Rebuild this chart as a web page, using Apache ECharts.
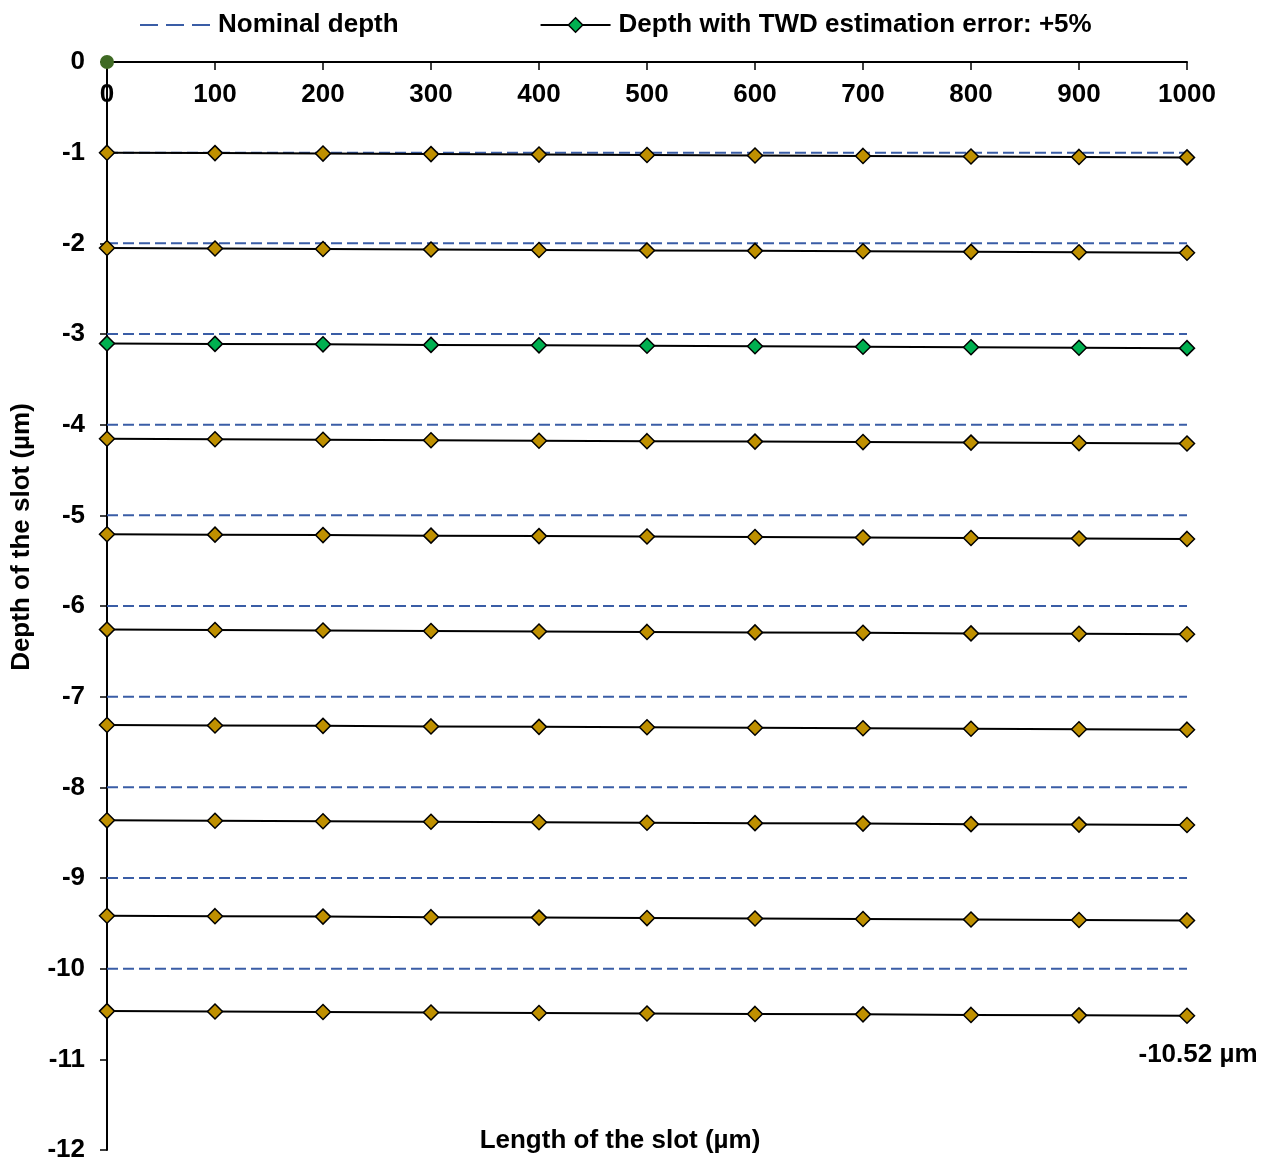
<!DOCTYPE html>
<html>
<head>
<meta charset="utf-8">
<title>Depth of the slot</title>
<script src="https://cdn.jsdelivr.net/npm/echarts@6/dist/echarts.min.js"></script>
<style>
  html, body { margin: 0; padding: 0; background: #ffffff; }
  #chart { width: 1271px; height: 1163px; }
</style>
</head>
<body>
<div id="chart"></div>
<script>
// Positions along the slot (µm)
var lengths = [0, 100, 200, 300, 400, 500, 600, 700, 800, 900, 1000];

// Nominal depth of each pass (µm)
var nominalDepths = [-1, -2, -3, -4, -5, -6, -7, -8, -9, -10];

// Depth per pass with a +5% TWD estimation error (µm)
var pass1  = [-1.000, -1.005, -1.010, -1.016, -1.021, -1.026, -1.031, -1.036, -1.042, -1.047, -1.052];
var pass2  = [-2.052, -2.057, -2.062, -2.068, -2.073, -2.078, -2.083, -2.088, -2.094, -2.099, -2.104];
var pass3  = [-3.104, -3.109, -3.114, -3.120, -3.125, -3.130, -3.135, -3.140, -3.146, -3.151, -3.156];
var pass4  = [-4.156, -4.161, -4.166, -4.172, -4.177, -4.182, -4.187, -4.192, -4.198, -4.203, -4.208];
var pass5  = [-5.208, -5.213, -5.218, -5.224, -5.229, -5.234, -5.239, -5.244, -5.250, -5.255, -5.260];
var pass6  = [-6.260, -6.265, -6.270, -6.276, -6.281, -6.286, -6.291, -6.296, -6.302, -6.307, -6.312];
var pass7  = [-7.312, -7.317, -7.322, -7.328, -7.333, -7.338, -7.343, -7.348, -7.354, -7.359, -7.364];
var pass8  = [-8.364, -8.369, -8.374, -8.380, -8.385, -8.390, -8.395, -8.400, -8.406, -8.411, -8.416];
var pass9  = [-9.416, -9.421, -9.426, -9.432, -9.437, -9.442, -9.447, -9.452, -9.458, -9.463, -9.468];
var pass10 = [-10.468, -10.473, -10.478, -10.484, -10.489, -10.494, -10.499, -10.504, -10.510, -10.515, -10.520];
var passes = [pass1, pass2, pass3, pass4, pass5, pass6, pass7, pass8, pass9, pass10];

// Start point of the slot
var origin = [0, 0];

var NOMINAL = 'Nominal depth';
var ERRNAME = 'Depth with TWD estimation error: +5%';
var FONT = '"Liberation Sans", Arial, sans-serif';
var GOLD = '#BF9000';
var GREEN = '#00B050';
var BLUE = '#3A5DA6';

var series = [];

nominalDepths.forEach(function (d) {
  series.push({
    name: NOMINAL,
    type: 'line',
    symbol: 'none',
    silent: true,
    z: 2,
    lineStyle: { color: BLUE, width: 2, type: [11, 5] },
    itemStyle: { color: BLUE },
    data: [[lengths[0], d], [lengths[lengths.length - 1], d]]
  });
});

passes.forEach(function (vals, i) {
  var isLast = i === passes.length - 1;
  series.push({
    name: ERRNAME,
    type: 'line',
    symbol: 'diamond',
    symbolSize: 15,
    z: 3,
    lineStyle: { color: '#000000', width: 2 },
    itemStyle: { color: i === 2 ? GREEN : GOLD, borderColor: '#000000', borderWidth: 1.5 },
    data: vals.map(function (v, j) {
      var item = { value: [lengths[j], v] };
      if (isLast && j === vals.length - 1) {
        item.label = {
          show: true,
          position: 'bottom',
          distance: 18,
          offset: [11, 0],
          formatter: function (p) { return p.value[1].toFixed(2) + ' µm'; },
          fontFamily: FONT,
          fontWeight: 'bold',
          fontSize: 26,
          color: '#000000'
        };
      }
      return item;
    })
  });
});

series.push({
  name: 'origin',
  type: 'scatter',
  symbol: 'circle',
  symbolSize: 14,
  z: 5,
  itemStyle: { color: '#3F6A24', opacity: 1 },
  data: [origin]
});

var chart = echarts.init(document.getElementById('chart'), null, { renderer: 'canvas' });
chart.setOption({
  animation: false,
  backgroundColor: '#ffffff',
  grid: { left: 107, right: 84, top: 62, bottom: 12, containLabel: false },
  legend: {
    left: 134,
    top: 7,
    itemWidth: 70,
    itemHeight: 18,
    itemGap: 141,
    data: [
      { name: NOMINAL, itemStyle: { opacity: 0 }, lineStyle: { color: BLUE, width: 2, type: [18, 8] } },
      { name: ERRNAME, itemStyle: { color: GREEN, borderColor: '#000000', borderWidth: 1.5 } }
    ],
    textStyle: { fontFamily: FONT, fontWeight: 'bold', fontSize: 26, color: '#000000', padding: [0, 0, 0, 3] }
  },
  xAxis: {
    type: 'value',
    position: 'top',
    min: 0,
    max: 1000,
    interval: 100,
    axisLine: { show: true, onZero: false, lineStyle: { color: '#000000', width: 2 } },
    axisTick: { show: true, inside: true, length: 8, lineStyle: { color: '#000000', width: 1.5 } },
    axisLabel: {
      inside: true,
      margin: 20,
      formatter: function (v) { return String(v); },
      fontFamily: FONT,
      fontWeight: 'bold',
      fontSize: 26,
      color: '#000000'
    },
    splitLine: { show: false }
  },
  yAxis: {
    type: 'value',
    min: -12,
    max: 0,
    interval: 1,
    axisLine: { show: true, onZero: false, lineStyle: { color: '#000000', width: 2 } },
    axisTick: { show: true, inside: false, length: 7, lineStyle: { color: '#000000', width: 1.5 } },
    axisLabel: { margin: 22, fontFamily: FONT, fontWeight: 'bold', fontSize: 26, color: '#000000' },
    splitLine: { show: false }
  },
  graphic: [
    {
      type: 'text',
      x: 22,
      y: 537,
      rotation: Math.PI / 2,
      style: {
        text: 'Depth of the slot (µm)',
        fontFamily: FONT,
        fontWeight: 'bold',
        fontSize: 26,
        fill: '#000000',
        align: 'center',
        verticalAlign: 'middle'
      }
    },
    {
      type: 'text',
      x: 620,
      y: 1141,
      style: {
        text: 'Length of the slot (µm)',
        fontFamily: FONT,
        fontWeight: 'bold',
        fontSize: 26,
        fill: '#000000',
        align: 'center',
        verticalAlign: 'middle'
      }
    }
  ],
  series: series
});
</script>
</body>
</html>
